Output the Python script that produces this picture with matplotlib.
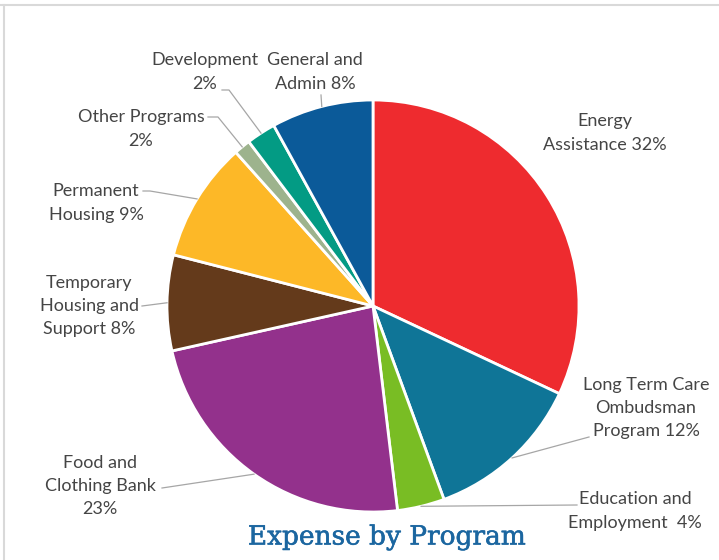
import matplotlib
matplotlib.use("Agg")
from matplotlib import pyplot as plt
from matplotlib.lines import Line2D
import matplotlib.patheffects as pe
import numpy as np

W, H = 719, 560

programs = ["Energy Assistance", "Long Term Care Ombudsman Program", "Education and Employment",
            "Food and Clothing Bank", "Temporary Housing and Support", "Permanent Housing",
            "Other Programs", "Development", "General and Admin"]
shares = [32.0, 12.4, 3.7, 23.4, 7.5, 9.4, 1.3, 2.3, 8.0]
label_text = ["Energy\nAssistance 32%", "Long Term Care\nOmbudsman\nProgram 12%",
              "Education and\nEmployment  4%", "Food and\nClothing Bank\n23%",
              "Temporary\nHousing and\nSupport 8%", "Permanent\nHousing 9%",
              "Other Programs\n2%", "Development\n2%", "General and\nAdmin 8%"]
colors = ["#EE2B2F", "#0F7597", "#79BD24", "#93318C", "#643A1B", "#FDB827",
          "#9DB38D", "#039B84", "#0B5A99"]

# label centres and leader start points, in pixels from top-left
label_pos = [(605, 133), (646, 408), (635, 511), (100, 486), (89, 306),
             (96, 203), (141, 129), (205, 72), (315, 72)]
leader_start = [None, [(589, 437)], [(577, 505)], [(162, 488)], [(142, 306)],
                [(143, 191), (150, 191)], [(208, 117), (218, 117)],
                [(222, 90), (229, 90)], [(321, 95)]]


def px(x, y):
    return x / W, 1 - y / H


fig = plt.figure(figsize=(W / 100, H / 100), dpi=100)
cx, cy, r = 373, 306, 206
ax = fig.add_axes([(cx - r) / W, (H - cy - r) / H, 2 * r / W, 2 * r / H])
wedges, _ = ax.pie(shares, colors=colors, startangle=90, counterclock=False,
                   wedgeprops=dict(edgecolor="white", linewidth=2))
ax.set_xlim(-1, 1)
ax.set_ylim(-1, 1)
ax.set_aspect("equal")
ax.axis("off")

to_fig = fig.transFigure.inverted()
for w, txt, pos, lead in zip(wedges, label_text, label_pos, leader_start):
    fig.text(*px(*pos), txt, ha="center", va="center", fontsize=13,
             family="Lato", color="#454545", linespacing=1.55)
    if lead is None:
        continue
    mid = np.deg2rad((w.theta1 + w.theta2) / 2)
    edge = to_fig.transform(ax.transData.transform((np.cos(mid), np.sin(mid))))
    pts = [px(*p) for p in lead] + [tuple(edge)]
    xs, ys = zip(*pts)
    fig.add_artist(Line2D(xs, ys, color="#A6A6A6", linewidth=0.9))

fig.text(*px(387, 537), "Expense by Program", ha="center", va="center",
         fontsize=19, family="DejaVu Serif", color="#1B66A0",
         path_effects=[pe.withStroke(linewidth=0.4, foreground="#1B66A0")])

# frame edges
fig.add_artist(Line2D([0, 1], [1 - 5 / H, 1 - 5 / H], color="#D9D9D9", linewidth=1.5))
fig.add_artist(Line2D([4 / W, 4 / W], [0, 1 - 5 / H], color="#D9D9D9", linewidth=1.5))

fig.savefig("out.png", dpi=100)
